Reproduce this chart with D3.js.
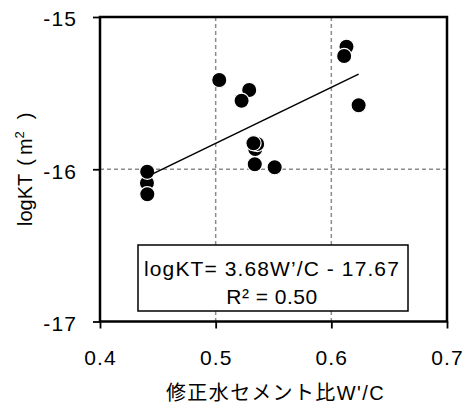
<!DOCTYPE html>
<html>
<head>
<meta charset="utf-8">
<script src="https://cdn.jsdelivr.net/npm/d3@7"></script>
<style>
  html, body { margin: 0; padding: 0; background: #fff; }
  svg { display: block; }
  text { font-family: "Liberation Sans", Arial, "Noto Sans CJK JP", sans-serif; fill: #000; }
</style>
</head>
<body>
<svg id="chart" width="466" height="408"></svg>
<script>
// Modified water-cement ratio vs. log permeability coefficient
const wc = [0.4406, 0.4408, 0.4409, 0.5031, 0.5290, 0.5224, 0.6131, 0.6111, 0.6236,
            0.5342, 0.5359, 0.5327, 0.5338, 0.5510];
const logKT = [-16.09, -16.016, -16.164, -15.414, -15.479, -15.55, -15.195, -15.256, -15.58,
               -15.867, -15.834, -15.829, -15.967, -15.987];

const xTicks = [0.4, 0.5, 0.6, 0.7];
const xTickLabels = ["0.4", "0.5", "0.6", "0.7"];
const yTicks = [-17, -16, -15];
const yTickLabels = ["-17", "-16", "-15"];
const xGrid = [0.5, 0.6];
const yGrid = [-16];

// Linear fit
const slope = 3.68;
const intercept = -17.67;
const r2 = 0.50;

const margin = { left: 100, top: 17, right: 19, bottom: 86.5 };
const W = 466, H = 408;
const iw = W - margin.left - margin.right;
const ih = H - margin.top - margin.bottom;

const svg = d3.select("#chart");
const g = svg.append("g").attr("transform", `translate(${margin.left},${margin.top})`);

const x = d3.scaleLinear().domain([0.4, 0.7]).range([0, iw]);
const y = d3.scaleLinear().domain([-17, -15]).range([ih, 0]);

// grid
g.selectAll(".vgrid").data(xGrid).join("line")
  .attr("x1", d => x(d)).attr("x2", d => x(d))
  .attr("y1", 0).attr("y2", ih)
  .attr("stroke", "#8c8c8c").attr("stroke-width", 1.5).attr("stroke-dasharray", "4,3");
g.selectAll(".hgrid").data(yGrid).join("line")
  .attr("x1", 0).attr("x2", iw)
  .attr("y1", d => y(d)).attr("y2", d => y(d))
  .attr("stroke", "#8c8c8c").attr("stroke-width", 1.5).attr("stroke-dasharray", "4,3");

// axes
const xAxis = d3.axisBottom(x).tickValues(xTicks)
  .tickFormat((d, i) => xTickLabels[i]).tickSize(7).tickPadding(22);
const yAxis = d3.axisLeft(y).tickValues(yTicks)
  .tickFormat((d, i) => yTickLabels[i]).tickSize(7).tickPadding(16);

const gx = g.append("g").attr("transform", `translate(0,${ih})`).call(xAxis);
const gy = g.append("g").call(yAxis);
[gx, gy].forEach(a => {
  a.select(".domain").remove();
  a.selectAll(".tick line").attr("stroke", "#000").attr("stroke-width", 1.8);
  a.selectAll(".tick text").attr("font-size", 21).attr("letter-spacing", 1.1)
    .attr("font-family", "'Liberation Sans', Arial, sans-serif").attr("fill", "#000");
});
gy.selectAll(".tick text").attr("dy", "0.42em");

// frame
g.append("rect").attr("x", 0).attr("y", 0).attr("width", iw).attr("height", ih)
  .attr("fill", "none").attr("stroke", "#000").attr("stroke-width", 2.5);

// equation box
const box = g.append("g").attr("transform", "translate(38,228)");
box.append("rect").attr("width", 270).attr("height", 66)
  .attr("fill", "#fff").attr("stroke", "#000").attr("stroke-width", 1.5);
box.append("text").attr("x", 134).attr("y", 31).attr("text-anchor", "middle")
  .attr("font-size", 21).attr("letter-spacing", 1.1)
  .text(`logKT= ${slope.toFixed(2)}W’/C - ${Math.abs(intercept).toFixed(2)}`);
box.append("text").attr("x", 134).attr("y", 59).attr("text-anchor", "middle")
  .attr("font-size", 21).attr("letter-spacing", 0.5)
  .text(`R² = ${r2.toFixed(2)}`);

// points
const pts = wc.map((v, i) => ({ x: v, y: logKT[i] }));
g.selectAll(".pt").data(pts).join("circle")
  .attr("cx", d => x(d.x)).attr("cy", d => y(d.y)).attr("r", 7.6)
  .attr("fill", "#000").attr("stroke", "#fff").attr("stroke-width", 1.2);

// trend line
const x0 = d3.min(wc), x1 = d3.max(wc);
g.append("line")
  .attr("x1", x(x0)).attr("y1", y(slope * x0 + intercept))
  .attr("x2", x(x1)).attr("y2", y(slope * x1 + intercept))
  .attr("stroke", "#000").attr("stroke-width", 1.6);

// axis titles
svg.append("text").attr("x", margin.left + iw / 2 + 2).attr("y", 400)
  .attr("text-anchor", "middle").attr("font-size", 20)
  .attr("font-family", "'Noto Sans CJK JP', sans-serif")
  .attr("letter-spacing", 1.4)
  .text("修正水セメント比W'/C");

const yt = svg.append("text")
  .attr("transform", `translate(32,${margin.top + ih / 2}) rotate(-90)`)
  .attr("text-anchor", "middle").attr("font-size", 20);
yt.append("tspan").text("logKT");
yt.append("tspan").attr("dx", 8).text("(");
yt.append("tspan").attr("dx", 4).text("m");
yt.append("tspan").attr("font-size", 13).attr("dy", -8).text("2");
yt.append("tspan").attr("dx", 12).attr("dy", 8).text(")");
</script>
</body>
</html>
